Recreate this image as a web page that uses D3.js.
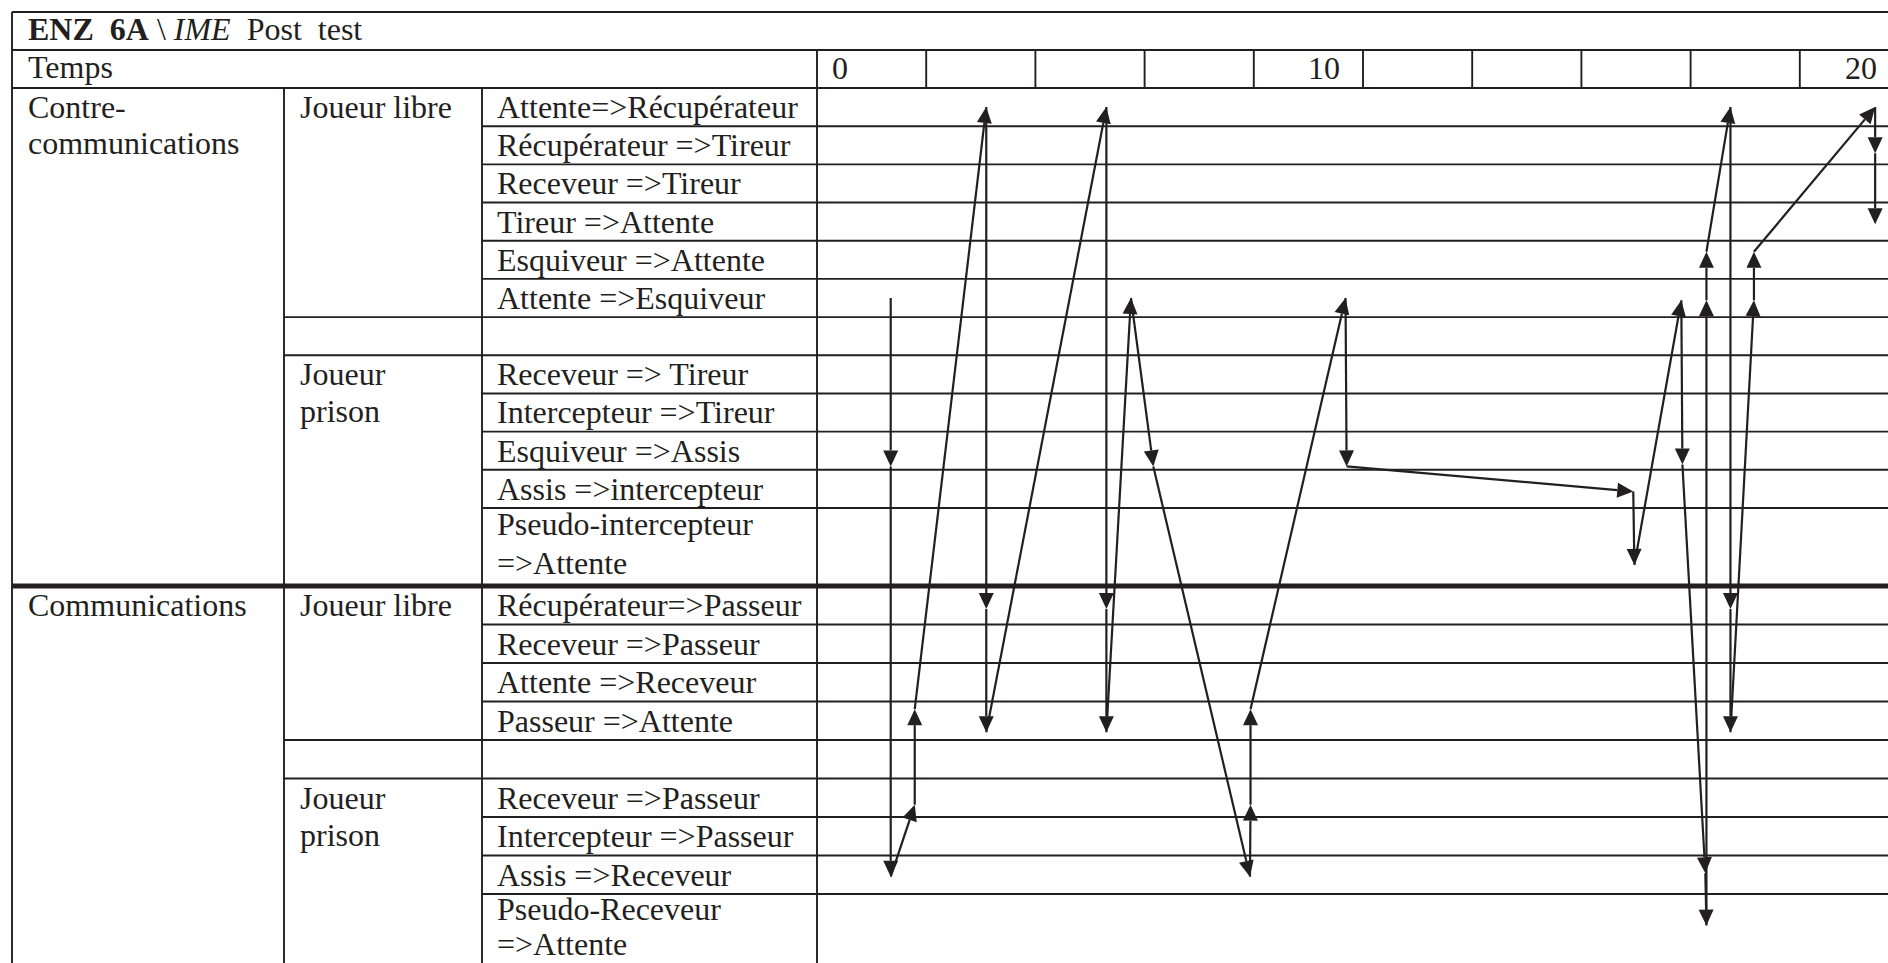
<!DOCTYPE html>
<html><head><meta charset="utf-8">
<script src="https://cdn.jsdelivr.net/npm/d3@7"></script>
<style>
html,body{margin:0;padding:0;background:#fff;overflow:hidden;}
svg{display:block;}
text{font-family:"Liberation Serif","Times New Roman",serif;font-size:32px;fill:#231f20;white-space:pre;}
</style></head><body>
<svg id="chart" width="1888" height="963"></svg>
<script>
// ---------------- DATA ----------------
const titleParts = [
  {text: "ENZ  6A", weight: "bold", style: "normal"},
  {text: " \\ ", weight: "normal", style: "normal"},
  {text: "IME", weight: "normal", style: "italic"},
  {text: "  Post  test", weight: "normal", style: "normal"}
];
const timeHeader = "Temps";
const tickValues = [0, 10, 20];
const tickLabels = ["0", "10", "20"];
const cellBounds = [0, 2, 4, 6, 8, 10, 12, 14, 16, 18, 20];

// state rows (third column); "" = empty separator row
const states = [
  ["Attente=>Récupérateur"],
  ["Récupérateur =>Tireur"],
  ["Receveur =>Tireur"],
  ["Tireur =>Attente"],
  ["Esquiveur =>Attente"],
  ["Attente =>Esquiveur"],
  [""],
  ["Receveur => Tireur"],
  ["Intercepteur =>Tireur"],
  ["Esquiveur =>Assis"],
  ["Assis =>intercepteur"],
  ["Pseudo-intercepteur", "=>Attente"],
  ["Récupérateur=>Passeur"],
  ["Receveur =>Passeur"],
  ["Attente =>Receveur"],
  ["Passeur =>Attente"],
  [""],
  ["Receveur =>Passeur"],
  ["Intercepteur =>Passeur"],
  ["Assis =>Receveur"],
  ["Pseudo-Receveur", "=>Attente"]
];
const stateSpans = [1,1,1,1,1,1,1,1,1,1,1,2,1,1,1,1,1,1,1,1,2];

// first column groups [label lines, first row, last row exclusive]
const families = [
  {label: ["Contre-", "communications"], from: 0, to: 12},
  {label: ["Communications"], from: 12, to: 21}
];
// second column groups
const roles = [
  {label: ["Joueur libre"], from: 0, to: 6},
  {label: [""], from: 6, to: 7},
  {label: ["Joueur", "prison"], from: 7, to: 12},
  {label: ["Joueur libre"], from: 12, to: 16},
  {label: [""], from: 16, to: 17},
  {label: ["Joueur", "prison"], from: 17, to: 21}
];

// trajectory: [time, state row index, position inside the row (0 top .. 1 bottom)]
const trajectory = [
  [1.35, 5, 0.50],
  [1.35, 9, 0.91],
  [1.35, 19, 0.55],
  [1.79, 17, 0.68],
  [1.79, 15, 0.20],
  [3.10, 0, 0.50],
  [3.10, 12, 0.60],
  [3.10, 15, 0.80],
  [5.30, 0, 0.50],
  [5.30, 12, 0.60],
  [5.30, 15, 0.80],
  [5.75, 5, 0.50],
  [6.16, 9, 0.91],
  [7.93, 19, 0.55],
  [7.94, 17, 0.68],
  [7.94, 15, 0.20],
  [9.68, 5, 0.50],
  [9.70, 9, 0.91],
  [14.95, 10, 0.57],
  [14.97, 11, 0.73],
  [15.83, 5, 0.56],
  [15.85, 9, 0.86],
  [16.27, 19, 0.46],
  [16.29, 20, 0.41],
  [16.29, 5, 0.56],
  [16.29, 4, 0.29],
  [16.73, 0, 0.50],
  [16.73, 12, 0.60],
  [16.73, 15, 0.80],
  [17.16, 5, 0.56],
  [17.16, 4, 0.29],
  [19.38, 0, 0.50],
  [19.38, 1, 0.71],
  [19.38, 3, 0.57]
];

// ---------------- LAYOUT / STYLE ----------------
const ink = "#231f20";
const W = 1888, H = 963;
const tableLeft = 12, col2 = 284, col3 = 482;
const yTop = 12, yTitle = 50, yHead = 88;
const tickAnchor = ["start", "end", "end"];
const tickShift = [15, -23, -32];
const thinW = 1.9, thickW = 5, arrowW = 2.2;
const headLen = 16, headWidth = 15;

const x = d3.scaleLinear().domain([0, 20]).range([817, 1909]);
const y = d3.scaleLinear().domain([0, 11, 13, 21, 23]).range([88, 508, 586, 894, 971]);

const starts = [];
stateSpans.reduce((acc, s, i) => { starts[i] = acc; return acc + s; }, 0);
const rowTop = i => y(starts[i]);
const rowPos = (i, f) => y(starts[i] + f * stateSpans[i]);

const svg = d3.select("#chart");
svg.append("rect").attr("width", W).attr("height", H).attr("fill", "#fff");

const grid = svg.append("g").attr("stroke", ink).attr("stroke-width", thinW).attr("fill", "none");
function hline(x1, x2, yy, w) {
  grid.append("line").attr("x1", x1).attr("x2", x2).attr("y1", yy).attr("y2", yy)
    .attr("stroke-width", w || thinW);
}
function vline(xx, y1, y2) {
  grid.append("line").attr("x1", xx).attr("x2", xx).attr("y1", y1).attr("y2", y2);
}

// outer header lines
hline(tableLeft, W, yTop);
hline(tableLeft, W, yTitle);
hline(tableLeft, W, yHead);
vline(tableLeft, yTop, H);
vline(col2, yHead, H);
vline(col3, yHead, H);
vline(x(0), yTitle, H);
cellBounds.slice(1).forEach(t => vline(x(t), yTitle, yHead));

// row lines
states.forEach((s, i) => {
  if (i === 0) return;
  const yy = rowTop(i);
  const famStart = families.some(f => f.from === i);
  const roleStart = roles.some(r => r.from === i);
  const x1 = famStart ? tableLeft : (roleStart ? col2 : col3);
  hline(x1, W, yy, famStart ? thickW : thinW);
});

// texts
const txt = svg.append("g");
const title = txt.append("text").attr("x", tableLeft + 16).attr("y", 40);
titleParts.forEach(p => title.append("tspan").text(p.text)
  .attr("font-weight", p.weight).attr("font-style", p.style));

txt.append("text").attr("x", tableLeft + 16).attr("y", 78).text(timeHeader);
tickValues.forEach((v, i) => {
  txt.append("text").attr("x", x(v) + tickShift[i]).attr("y", 79)
    .attr("text-anchor", tickAnchor[i]).text(tickLabels[i]);
});

function multiline(xx, top, lines, gaps) {
  lines.forEach((l, k) => {
    if (!l) return;
    txt.append("text").attr("x", xx).attr("y", top + gaps[k]).text(l);
  });
}
families.forEach(f => multiline(tableLeft + 16, rowTop(f.from), f.label, [30, 66]));
roles.forEach(r => multiline(col2 + 16, rowTop(r.from), r.label, [30, 67]));
states.forEach((s, i) => multiline(col3 + 15, rowTop(i), s,
  i === 11 ? [27, 66] : (i === 20 ? [26, 61] : [30, 64])));

// trajectory arrows
const arrows = svg.append("g");
const pts = trajectory.map(d => [x(d[0]), rowPos(d[1], d[2])]);
for (let k = 1; k < pts.length; k++) {
  const [x0, y0] = pts[k - 1], [x1, y1] = pts[k];
  const a = Math.atan2(y1 - y0, x1 - x0);
  const bx = x1 - headLen * Math.cos(a), by = y1 - headLen * Math.sin(a);
  arrows.append("line").attr("x1", x0).attr("y1", y0).attr("x2", bx).attr("y2", by)
    .attr("stroke", ink).attr("stroke-width", arrowW);
  const px = -Math.sin(a) * headWidth / 2, py = Math.cos(a) * headWidth / 2;
  arrows.append("path")
    .attr("d", d3.line()([[x1, y1], [bx + px, by + py], [bx - px, by - py]]) + "Z")
    .attr("fill", ink);
}
</script>
</body></html>
